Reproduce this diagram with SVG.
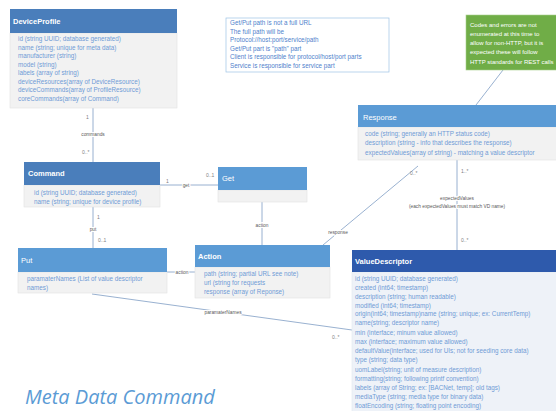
<svg xmlns="http://www.w3.org/2000/svg" width="556" height="411" viewBox="0 0 556 411">
<style>
.hd{fill:#5B9BD5}
.hd2{fill:#4A7EBB}
.hd3{fill:#2E5AAC}
.bd{fill:#F2F2F2;stroke:#E2E2E2;stroke-width:0.6}
.bdv{fill:#EEF2F8;stroke:#E2E6EE;stroke-width:0.6}
.t{font-family:"Liberation Sans",Arial,sans-serif;font-size:6.3px;fill:#6F9BD6}
.ht{font-family:"Liberation Sans",Arial,sans-serif;font-size:7.5px;fill:#FFFFFF}
.hb{font-weight:bold}
.ln{stroke:#7F9DC4;stroke-width:0.8;fill:none}
.lb{font-family:"Liberation Sans",Arial,sans-serif;font-size:4.8px;fill:#595959;text-anchor:middle;paint-order:stroke;stroke:#FFFFFF;stroke-width:2px}
.m{font-family:"Liberation Sans",Arial,sans-serif;font-size:5px;fill:#7F7F7F}
.nt{font-family:"Liberation Sans",Arial,sans-serif;font-size:6.3px;fill:#4F7FCC}
.gt{font-family:"Liberation Sans",Arial,sans-serif;font-size:6px;fill:#FFFFFF}
</style>
<rect width="556" height="411" fill="#FFFFFF"/>
<g id="connectors">
<line class="ln" x1="93" y1="108" x2="93" y2="162"/>
<line class="ln" x1="160" y1="185" x2="218" y2="185"/>
<line class="ln" x1="93" y1="207" x2="93" y2="248"/>
<line class="ln" x1="262" y1="202" x2="262" y2="245"/>
<line class="ln" x1="167" y1="272" x2="195" y2="272"/>
<line class="ln" x1="323" y1="245" x2="418" y2="166"/>
<line class="ln" x1="457" y1="160" x2="457" y2="250"/>
<line class="ln" x1="92" y1="294" x2="352" y2="330"/>
<line class="ln" x1="503" y1="70" x2="476" y2="105"/>
<text class="m" x="86" y="119">1</text>
<text class="lb" x="93" y="136">commands</text>
<text class="m" x="82" y="154">0..*</text>
<text class="m" x="166" y="183">1</text>
<text class="lb" x="186" y="187">get</text>
<text class="m" x="206" y="177">0..1</text>
<text class="m" x="97" y="219">1</text>
<text class="lb" x="93" y="231">put</text>
<text class="m" x="98" y="242">0..1</text>
<text class="lb" x="262" y="227">action</text>
<text class="lb" x="182" y="274">action</text>
<text class="lb" x="338" y="234">response</text>
<text class="m" x="410" y="175">0..*</text>
<text class="m" x="461" y="173">1..*</text>
<text class="lb" x="457" y="200">expectedValues</text>
<text class="lb" x="457" y="208">(each expectedValues must match VD name)</text>
<text class="m" x="461" y="242">0..*</text>
<text class="m" x="102" y="290">0..*</text>
<text class="lb" x="223" y="314">paramaterNames</text>
<text class="m" x="332" y="339">0..*</text>
</g>
<g id="DeviceProfile">
<rect class="bd" x="10" y="33" width="167" height="75"/>
<rect class="hd2" x="10" y="9" width="167" height="24"/>
<text class="ht hb" x="13" y="23.5">DeviceProfile</text>
<text class="t" x="18" y="41">id (string UUID; database generated)</text>
<text class="t" x="18" y="49.5">name (string; unique for meta data)</text>
<text class="t" x="18" y="58">manufacturer (string)</text>
<text class="t" x="18" y="66.5">model (string)</text>
<text class="t" x="18" y="75">labels (array of string)</text>
<text class="t" x="18" y="83.5">deviceResources(array of DeviceResource)</text>
<text class="t" x="18" y="92">deviceCommands(array of ProfileResource)</text>
<text class="t" x="18" y="100.5">coreCommands(array of Command)</text>
</g>
<g id="Note">
<rect x="226" y="18" width="163" height="54" fill="#FFFFFF" stroke="#9DC3E6" stroke-width="0.7"/>
<text class="nt" x="230" y="25">Get/Put path is not a full URL</text>
<text class="nt" x="230" y="33.5">The full path will be</text>
<text class="nt" x="230" y="42">Protocol://host:port/service/path</text>
<text class="nt" x="230" y="50.5">Get/Put part is "path" part</text>
<text class="nt" x="230" y="59">Client is responsible for protocol/host/port parts</text>
<text class="nt" x="230" y="67.5">Service is responsible for service part</text>
</g>
<g id="CodesNote">
<rect x="466" y="15" width="95" height="55" fill="#70AD47" stroke="#A9D18E" stroke-width="0.6"/>
<text class="gt" x="470" y="27">Codes and errors are not</text>
<text class="gt" x="470" y="36">enumerated at this time to</text>
<text class="gt" x="470" y="45">allow for non-HTTP, but it is</text>
<text class="gt" x="470" y="54">expected these will follow</text>
<text class="gt" x="470" y="64">HTTP standards for REST calls</text>
</g>
<g id="Command">
<rect class="bd" x="24" y="185" width="136" height="22"/>
<rect class="hd2" x="24" y="162" width="136" height="23"/>
<text class="ht hb" x="28" y="176">Command</text>
<text class="t" x="34" y="195">id (string UUID; database generated)</text>
<text class="t" x="34" y="203.5">name (string; unique for device profile)</text>
</g>
<g id="Get">
<rect class="bd" x="218" y="190" width="89" height="12"/>
<rect class="hd" x="218" y="167" width="89" height="23"/>
<text class="ht" x="222" y="181">Get</text>
</g>
<g id="Response">
<rect class="bd" x="358" y="127" width="200" height="33"/>
<rect class="hd" x="358" y="105" width="200" height="22"/>
<text class="ht" x="363" y="119.5">Response</text>
<text class="t" x="365" y="136">code (string; generally an HTTP status code)</text>
<text class="t" x="365" y="145">description (string - info that describes the response)</text>
<text class="t" x="365" y="155">expectedValues(array of string) - matching a value descriptor</text>
</g>
<g id="Action">
<rect class="bd" x="195" y="267" width="135" height="31"/>
<rect class="hd" x="195" y="245" width="135" height="22"/>
<text class="ht hb" x="198" y="258.5">Action</text>
<text class="t" x="204" y="276">path (string; partial URL see note)</text>
<text class="t" x="204" y="285">url (string for requests</text>
<text class="t" x="204" y="294">response (array of Reponse)</text>
</g>
<g id="Put">
<rect class="bd" x="18" y="272" width="149" height="21"/>
<rect class="hd" x="18" y="248" width="149" height="24"/>
<text class="ht" x="21" y="262.5">Put</text>
<text class="t" x="27" y="281">paramaterNames (List of value descriptor</text>
<text class="t" x="27" y="290">names)</text>
</g>
<g id="ValueDescriptor">
<rect class="bdv" x="352" y="272" width="206" height="142"/>
<rect class="hd3" x="352" y="250" width="206" height="22"/>
<text class="ht hb" x="355" y="263.5">ValueDescriptor</text>
<text class="t" x="355" y="281">id (string UUID; database generated)</text>
<text class="t" x="355" y="290">created (int64; timestamp)</text>
<text class="t" x="355" y="299">description (string; human readable)</text>
<text class="t" x="355" y="307.5">modified (int64; timestamp)</text>
<text class="t" x="355" y="316">origin(int64; timestamp)name (string; unique; ex: CurrentTemp)</text>
<text class="t" x="355" y="325">name(string; descriptor name)</text>
<text class="t" x="355" y="334.5">min (interface; minum value allowed)</text>
<text class="t" x="355" y="343.5">max (interface; maximum value allowed)</text>
<text class="t" x="355" y="353">defaultValue(interface; used for UIs; not for seeding core data)</text>
<text class="t" x="355" y="362">type (string; data type)</text>
<text class="t" x="355" y="371.5">uomLabel(string; unit of measure description)</text>
<text class="t" x="355" y="380.5">formatting(string; following printf convention)</text>
<text class="t" x="355" y="390">labels (array of String; ex: [BACNet, temp]; old tags)</text>
<text class="t" x="355" y="399">mediaType (string; media type for binary data)</text>
<text class="t" x="355" y="408">floatEncoding (string; floating point encoding)</text>
</g>
<text x="25" y="404" font-family="'Open Sans','Liberation Sans',sans-serif" font-style="italic" font-size="20" fill="#5B9BD5">Meta Data Command</text>
</svg>
